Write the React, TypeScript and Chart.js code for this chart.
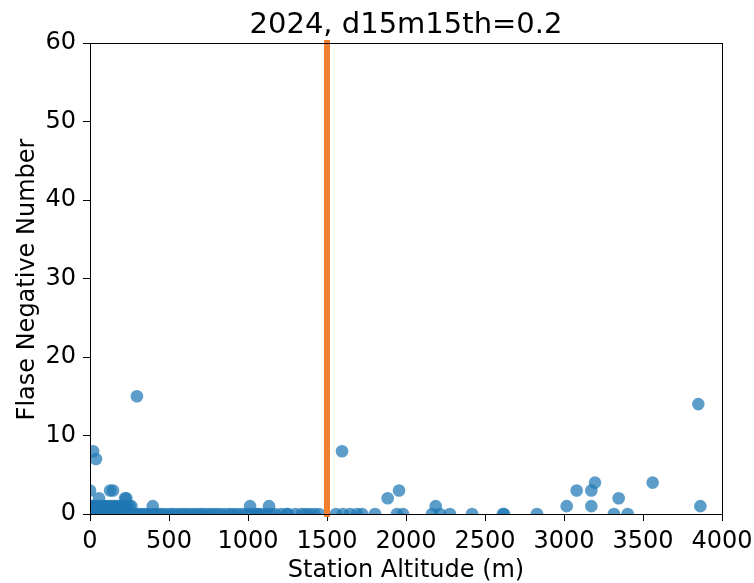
import React, { useEffect, useRef } from "react";
import { Chart, registerables } from "chart.js";

Chart.register(...registerables);

const chartTitle = "2024, d15m15th=0.2";
const xAxisLabel = "Station Altitude (m)";
const yAxisLabel = "Flase Negative Number";

const xTicks = [0, 500, 1000, 1500, 2000, 2500, 3000, 3500, 4000];
const yTicks = [0, 10, 20, 30, 40, 50, 60];

const thresholdAltitude = 1500;

// station altitudes grouped by their false negative count
const altitudesWith0 = [
  0, 8, 15, 25, 35, 50, 65, 80, 95, 110, 125, 140, 160, 175, 190, 210, 230, 250,
  270, 290, 310, 330, 350, 370, 395, 420, 440, 460, 485, 510, 530, 555, 580, 600,
  625, 650, 675, 700, 720, 745, 770, 795, 820, 850, 880, 905, 930, 960, 990, 1020,
  1050, 1063, 1080, 1110, 1140, 1170, 1210, 1245, 1253, 1300, 1340, 1365, 1390,
  1420, 1450, 1557, 1601, 1646, 1690, 1722, 1804, 1943, 1981, 2165, 2215, 2278,
  2418, 2614, 2620, 2829, 3316, 3403,
];
const altitudesWith1 = [
  0, 10, 20, 32, 45, 58, 72, 86, 100, 115, 130, 145, 160, 175, 190, 205, 220,
  235, 250, 262, 397, 1013, 1133, 2188, 3017, 3173, 3863,
];
const altitudesWith2 = [57, 222, 230, 1884, 3346];
const altitudesWith3 = [0, 127, 146, 1956, 3080, 3173];
const altitudesWith4 = [3196, 3561];
const altitudesWith7 = [38];
const altitudesWith8 = [20, 1595];
const altitudesWith14 = [3850];
const altitudesWith15 = [297];

const groups: [number, number[]][] = [
  [0, altitudesWith0],
  [1, altitudesWith1],
  [2, altitudesWith2],
  [3, altitudesWith3],
  [4, altitudesWith4],
  [7, altitudesWith7],
  [8, altitudesWith8],
  [14, altitudesWith14],
  [15, altitudesWith15],
];

const FONT = "'DejaVu Sans', sans-serif";

export default function App() {
  const ref = useRef<HTMLCanvasElement | null>(null);

  useEffect(() => {
    document.body.style.margin = "0";
    const canvas = ref.current;
    if (!canvas) return;

    const points: { x: number; y: number }[] = [];
    groups.forEach(([count, alts]) => {
      alts.forEach((a) => points.push({ x: a, y: count }));
    });

    const textPlugin = {
      id: "textPlugin",
      afterDraw(chart: any) {
        const { ctx, chartArea } = chart;
        const cx = (chartArea.left + chartArea.right) / 2;
        const cy = (chartArea.top + chartArea.bottom) / 2;
        ctx.save();
        ctx.strokeStyle = "#000";
        ctx.lineWidth = 1;
        ctx.strokeRect(
          Math.round(chartArea.left) + 0.5,
          Math.round(chartArea.top) + 0.5,
          Math.round(chartArea.right - chartArea.left),
          Math.round(chartArea.bottom - chartArea.top)
        );
        ctx.fillStyle = "#000";
        ctx.textAlign = "center";
        ctx.font = `29px ${FONT}`;
        ctx.textBaseline = "alphabetic";
        ctx.fillText(chartTitle, cx, 33);
        ctx.font = `24px ${FONT}`;
        ctx.textBaseline = "middle";
        ctx.fillText(xAxisLabel, cx, 571);
        ctx.translate(28, cy + 1);
        ctx.rotate(-Math.PI / 2);
        ctx.fillText(yAxisLabel, 0, 0);
        ctx.restore();
      },
    };

    const chart = new Chart(canvas, {
      type: "scatter",
      data: {
        datasets: [
          {
            type: "line",
            data: [
              { x: thresholdAltitude, y: yTicks[0] },
              { x: thresholdAltitude, y: yTicks[yTicks.length - 1] },
            ],
            borderColor: "#f0802f",
            borderWidth: 6,
            borderCapStyle: "square",
            pointRadius: 0,
            fill: false,
            clip: false as any,
          } as any,
          {
            data: points,
            backgroundColor: "rgba(31,119,180,0.72)",
            borderWidth: 0,
            pointRadius: 6.3,
            pointHoverRadius: 6.3,
            clip: 0 as any,
          },
        ],
      },
      options: {
        responsive: false,
        animation: false,
        devicePixelRatio: 1,
        layout: { padding: { left: 0, right: 32, top: 43, bottom: 0 } },
        plugins: {
          legend: { display: false },
          tooltip: { enabled: false },
          title: { display: false },
        },
        scales: {
          x: {
            type: "linear",
            min: xTicks[0],
            max: xTicks[xTicks.length - 1],
            afterFit: (s: any) => {
              s.height = 69;
              s.paddingLeft = 0;
              s.paddingRight = 0;
            },
            afterBuildTicks: (s: any) => {
              s.ticks = xTicks.map((v) => ({ value: v }));
            },
            grid: {
              display: true,
              drawOnChartArea: false,
              drawTicks: true,
              tickLength: 7,
              color: "#000",
            },
            border: { display: true, color: "#000", width: 1 },
            ticks: {
              color: "#000",
              font: { family: FONT, size: 24 },
              padding: 6,
              maxRotation: 0,
              autoSkip: false,
              callback: (v: any) => String(v),
            },
          },
          y: {
            type: "linear",
            min: yTicks[0],
            max: yTicks[yTicks.length - 1],
            afterFit: (s: any) => {
              s.width = 90;
              s.paddingTop = 0;
              s.paddingBottom = 0;
            },
            afterBuildTicks: (s: any) => {
              s.ticks = yTicks.map((v) => ({ value: v }));
            },
            grid: {
              display: true,
              drawOnChartArea: false,
              drawTicks: true,
              tickLength: 7,
              color: "#000",
            },
            border: { display: true, color: "#000", width: 1 },
            ticks: {
              color: "#000",
              font: { family: FONT, size: 24 },
              padding: 7,
              autoSkip: false,
              callback: (v: any) => String(v),
            },
          },
        },
      },
      plugins: [textPlugin],
    });

    return () => chart.destroy();
  }, []);

  return <canvas ref={ref} width={754} height={583} style={{ display: "block" }} />;
}
